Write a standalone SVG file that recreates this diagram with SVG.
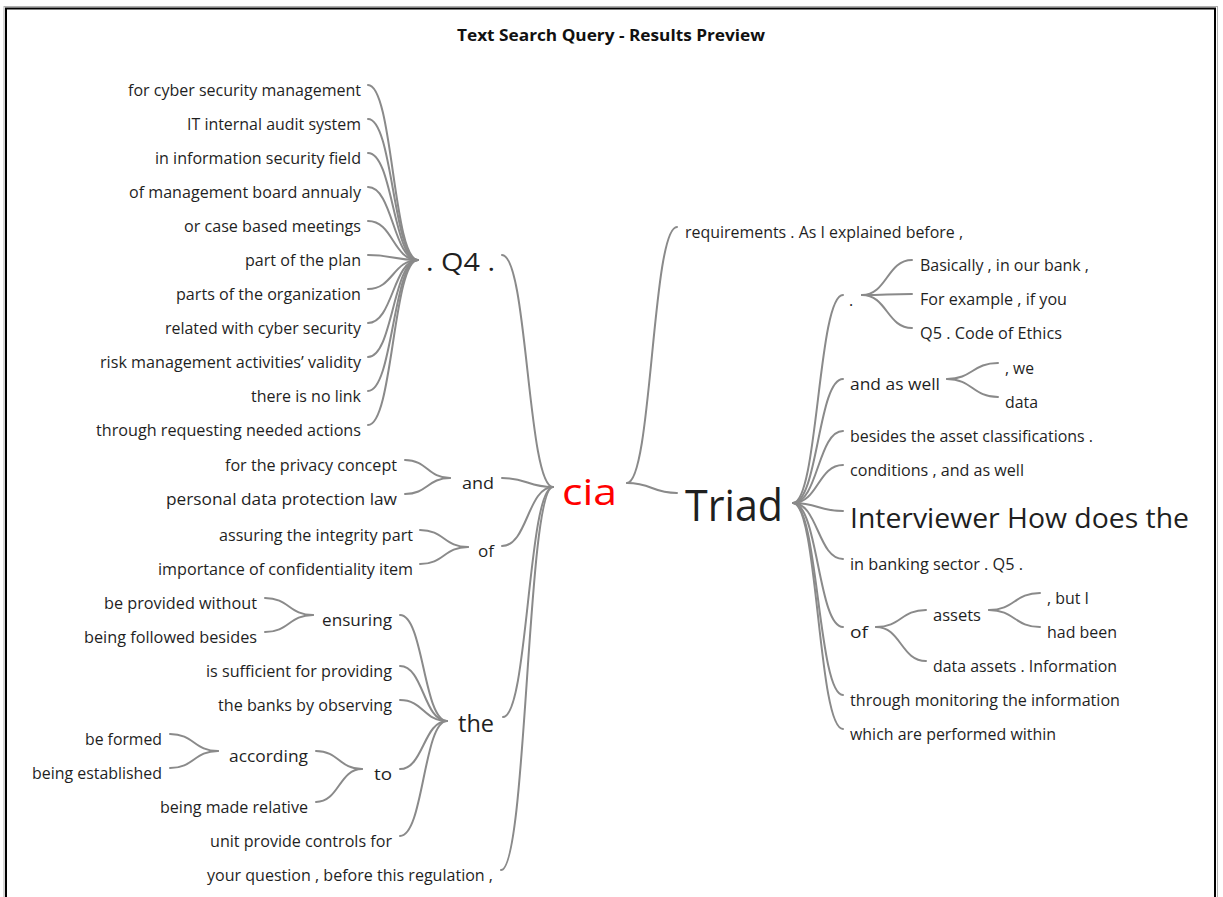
<svg xmlns="http://www.w3.org/2000/svg" width="1223" height="897" viewBox="0 0 1223 897">
  <defs>
    <style>
      .t { font-family: "Open Sans", "Noto Sans", "Liberation Sans", sans-serif; font-size: 16px; fill: #1f1f1f; }
      .e { text-anchor: end; }
      .title { font-family: "Open Sans", "Noto Sans", "Liberation Sans", sans-serif; font-size: 16px; font-weight: bold; fill: #111; text-anchor: middle; }
      .link { fill: none; stroke: #8a8a8a; stroke-width: 2; stroke-linecap: round; }
      .key { fill: #ff0000; }
    </style>
  </defs>

  <rect width="1223" height="897" fill="#ffffff"/>
  <!-- panel frame -->
  <rect x="4" y="6.5" width="1213.5" height="900" fill="none" stroke="#b0b0b0" stroke-width="1"/>
  <rect x="6" y="8.5" width="1209" height="900" fill="none" stroke="#000000" stroke-width="2"/>

  <text class="title" x="611" y="41" textLength="308" lengthAdjust="spacingAndGlyphs">Text Search Query - Results Preview</text>

  <!-- connectors: cubic S-curves between text anchors and branch points -->
  <g id="connectors">
    <!-- preceding phrases into ". Q4 ." -->
    <path class="link" d="M368,85 C393,85 393,260 418,260"/>
    <path class="link" d="M368,119 C393,119 393,260 418,260"/>
    <path class="link" d="M368,153 C393,153 393,260 418,260"/>
    <path class="link" d="M368,187 C393,187 393,260 418,260"/>
    <path class="link" d="M368,221 C393,221 393,260 418,260"/>
    <path class="link" d="M368,255 C393,255 393,260 418,260"/>
    <path class="link" d="M368,289 C393,289 393,260 418,260"/>
    <path class="link" d="M368,323 C393,323 393,260 418,260"/>
    <path class="link" d="M368,357 C393,357 393,260 418,260"/>
    <path class="link" d="M368,391 C393,391 393,260 418,260"/>
    <path class="link" d="M368,425 C393,425 393,260 418,260"/>
    <!-- into "and" -->
    <path class="link" d="M405,460 C427.5,460 427.5,478 450,478"/>
    <path class="link" d="M405,494 C427.5,494 427.5,478 450,478"/>
    <!-- into "of" -->
    <path class="link" d="M420,530 C444,530 444,547 468,547"/>
    <path class="link" d="M420,564 C444,564 444,547 468,547"/>
    <!-- into "ensuring" -->
    <path class="link" d="M265,598 C289,598 289,615 313,615"/>
    <path class="link" d="M265,632 C289,632 289,615 313,615"/>
    <!-- into "according" -->
    <path class="link" d="M170,734 C194,734 194,751 218,751"/>
    <path class="link" d="M170,768 C194,768 194,751 218,751"/>
    <!-- into "to" -->
    <path class="link" d="M316,751 C339,751 339,769 362,769"/>
    <path class="link" d="M316,802 C339,802 339,769 362,769"/>
    <!-- into "the" -->
    <path class="link" d="M400,615 C423.5,615 423.5,721 447,721"/>
    <path class="link" d="M400,666 C423.5,666 423.5,721 447,721"/>
    <path class="link" d="M400,700 C423.5,700 423.5,721 447,721"/>
    <path class="link" d="M400,769 C423.5,769 423.5,721 447,721"/>
    <path class="link" d="M400,836 C423.5,836 423.5,721 447,721"/>
    <!-- into the keyword -->
    <path class="link" d="M502,255 C527.5,255 527.5,487 553,487"/>
    <path class="link" d="M502,478 C527.5,478 527.5,487 553,487"/>
    <path class="link" d="M502,546 C527.5,546 527.5,487 553,487"/>
    <path class="link" d="M503,717 C528,717 528,487 553,487"/>
    <path class="link" d="M501,870 C527,870 527,487 553,487"/>

    <!-- following phrases out of the keyword -->
    <path class="link" d="M627,483 C652,483 652,227 677,227"/>
    <path class="link" d="M627,483 C652,483 652,493 677,493"/>
    <!-- out of "Triad" -->
    <path class="link" d="M793,503 C818,503 818,295 843,295"/>
    <path class="link" d="M793,503 C818,503 818,379 843,379"/>
    <path class="link" d="M793,503 C818,503 818,431 843,431"/>
    <path class="link" d="M793,503 C818,503 818,465 843,465"/>
    <path class="link" d="M793,503 C818,503 818,511 843,511"/>
    <path class="link" d="M793,503 C818,503 818,559 843,559"/>
    <path class="link" d="M793,503 C818,503 818,627 843,627"/>
    <path class="link" d="M793,503 C818,503 818,695 843,695"/>
    <path class="link" d="M793,503 C818,503 818,729 843,729"/>
    <!-- out of "." -->
    <path class="link" d="M862,295 C887,295 887,260 912,260"/>
    <path class="link" d="M862,295 C887,295 887,294 912,294"/>
    <path class="link" d="M862,295 C887,295 887,328 912,328"/>
    <!-- out of "and as well" -->
    <path class="link" d="M947,379 C972.5,379 972.5,363 998,363"/>
    <path class="link" d="M947,379 C972.5,379 972.5,397 998,397"/>
    <!-- out of "of" -->
    <path class="link" d="M876,627 C901,627 901,610 926,610"/>
    <path class="link" d="M876,627 C901,627 901,661 926,661"/>
    <!-- out of "assets" -->
    <path class="link" d="M989,610 C1014.5,610 1014.5,593 1040,593"/>
    <path class="link" d="M989,610 C1014.5,610 1014.5,627 1040,627"/>
  </g>

  <!-- keyword -->
  <g id="node-cia">
    <text class="t key" x="562" y="505" style="font-size:36px" textLength="55" lengthAdjust="spacingAndGlyphs">cia</text>
  </g>

  <!-- left branch: ". Q4 ." -->
  <g id="node-q4">
    <text class="t" x="426" y="271" style="font-size:25px" textLength="69" lengthAdjust="spacingAndGlyphs">. Q4 .</text>
  </g>
  <g id="q4-children">
    <text class="t e" x="361" y="95.5" textLength="233" lengthAdjust="spacingAndGlyphs">for cyber security management</text>
    <text class="t e" x="361" y="129.5" textLength="174" lengthAdjust="spacingAndGlyphs">IT internal audit system</text>
    <text class="t e" x="361" y="163.5" textLength="206" lengthAdjust="spacingAndGlyphs">in information security field</text>
    <text class="t e" x="361" y="197.5" textLength="232" lengthAdjust="spacingAndGlyphs">of management board annualy</text>
    <text class="t e" x="361" y="231.5" textLength="177" lengthAdjust="spacingAndGlyphs">or case based meetings</text>
    <text class="t e" x="361" y="265.5" textLength="116" lengthAdjust="spacingAndGlyphs">part of the plan</text>
    <text class="t e" x="361" y="299.5" textLength="185" lengthAdjust="spacingAndGlyphs">parts of the organization</text>
    <text class="t e" x="361" y="333.5" textLength="196" lengthAdjust="spacingAndGlyphs">related with cyber security</text>
    <text class="t e" x="361" y="367.5" textLength="261" lengthAdjust="spacingAndGlyphs">risk management activities’ validity</text>
    <text class="t e" x="361" y="401.5" textLength="110" lengthAdjust="spacingAndGlyphs">there is no link</text>
    <text class="t e" x="361" y="435.5" textLength="265" lengthAdjust="spacingAndGlyphs">through requesting needed actions</text>
  </g>

  <!-- left branch: "and" -->
  <g id="node-and">
    <text class="t" x="462" y="488.5" textLength="32" lengthAdjust="spacingAndGlyphs">and</text>
    <text class="t e" x="397" y="470.5" textLength="172" lengthAdjust="spacingAndGlyphs">for the privacy concept</text>
    <text class="t e" x="397" y="504.5" textLength="231" lengthAdjust="spacingAndGlyphs">personal data protection law</text>
  </g>

  <!-- left branch: "of" -->
  <g id="node-of-left">
    <text class="t" x="478" y="556.5" textLength="16" lengthAdjust="spacingAndGlyphs">of</text>
    <text class="t e" x="413" y="540.5" textLength="194" lengthAdjust="spacingAndGlyphs">assuring the integrity part</text>
    <text class="t e" x="413" y="574.5" textLength="255" lengthAdjust="spacingAndGlyphs">importance of confidentiality item</text>
  </g>

  <!-- left branch: "the" -->
  <g id="node-the">
    <text class="t" x="458" y="732" style="font-size:23px" textLength="36" lengthAdjust="spacingAndGlyphs">the</text>
  </g>
  <g id="node-ensuring">
    <text class="t" x="322" y="625.5" textLength="70" lengthAdjust="spacingAndGlyphs">ensuring</text>
    <text class="t e" x="257" y="608.5" textLength="153" lengthAdjust="spacingAndGlyphs">be provided without</text>
    <text class="t e" x="257" y="642.5" textLength="173" lengthAdjust="spacingAndGlyphs">being followed besides</text>
  </g>
  <g id="the-children">
    <text class="t e" x="392" y="676.5" textLength="186" lengthAdjust="spacingAndGlyphs">is sufficient for providing</text>
    <text class="t e" x="392" y="710.5" textLength="174" lengthAdjust="spacingAndGlyphs">the banks by observing</text>
    <text class="t e" x="392" y="846.5" textLength="182" lengthAdjust="spacingAndGlyphs">unit provide controls for</text>
  </g>
  <g id="node-to">
    <text class="t" x="374" y="779.5" textLength="18" lengthAdjust="spacingAndGlyphs">to</text>
    <text class="t e" x="308" y="812.5" textLength="148" lengthAdjust="spacingAndGlyphs">being made relative</text>
  </g>
  <g id="node-according">
    <text class="t" x="229" y="761.5" textLength="79" lengthAdjust="spacingAndGlyphs">according</text>
    <text class="t e" x="162" y="744.5" textLength="77" lengthAdjust="spacingAndGlyphs">be formed</text>
    <text class="t e" x="162" y="778.5" textLength="130" lengthAdjust="spacingAndGlyphs">being established</text>
  </g>

  <!-- left branch: direct phrase -->
  <g id="node-question">
    <text class="t e" x="493" y="880.5" textLength="286" lengthAdjust="spacingAndGlyphs">your question , before this regulation ,</text>
  </g>

  <!-- right branch: direct phrase -->
  <g id="node-requirements">
    <text class="t" x="685" y="237.5" textLength="278" lengthAdjust="spacingAndGlyphs">requirements . As I explained before ,</text>
  </g>

  <!-- right branch: "Triad" -->
  <g id="node-triad">
    <text class="t" x="685" y="521" style="font-size:44px" textLength="98" lengthAdjust="spacingAndGlyphs">Triad</text>
  </g>
  <g id="node-dot">
    <text class="t" x="849" y="306">.</text>
    <text class="t" x="920" y="271" textLength="169" lengthAdjust="spacingAndGlyphs">Basically , in our bank ,</text>
    <text class="t" x="920" y="304.5" textLength="147" lengthAdjust="spacingAndGlyphs">For example , if you</text>
    <text class="t" x="920" y="338.5" textLength="142" lengthAdjust="spacingAndGlyphs">Q5 . Code of Ethics</text>
  </g>
  <g id="node-and-as-well">
    <text class="t" x="850" y="389.5" textLength="90" lengthAdjust="spacingAndGlyphs">and as well</text>
    <text class="t" x="1005" y="373.5" textLength="29" lengthAdjust="spacingAndGlyphs">, we</text>
    <text class="t" x="1005" y="407.5" textLength="33" lengthAdjust="spacingAndGlyphs">data</text>
  </g>
  <g id="triad-children">
    <text class="t" x="850" y="441.5" textLength="243" lengthAdjust="spacingAndGlyphs">besides the asset classifications .</text>
    <text class="t" x="850" y="475.5" textLength="174" lengthAdjust="spacingAndGlyphs">conditions , and as well</text>
    <text class="t" x="850" y="528" style="font-size:27px" textLength="339" lengthAdjust="spacingAndGlyphs">Interviewer How does the</text>
    <text class="t" x="850" y="569.5" textLength="173" lengthAdjust="spacingAndGlyphs">in banking sector . Q5 .</text>
    <text class="t" x="850" y="705.5" textLength="270" lengthAdjust="spacingAndGlyphs">through monitoring the information</text>
    <text class="t" x="850" y="739.5" textLength="206" lengthAdjust="spacingAndGlyphs">which are performed within</text>
  </g>
  <g id="node-of-right">
    <text class="t" x="850" y="637.5" textLength="18" lengthAdjust="spacingAndGlyphs">of</text>
    <text class="t" x="933" y="671.5" textLength="184" lengthAdjust="spacingAndGlyphs">data assets . Information</text>
  </g>
  <g id="node-assets">
    <text class="t" x="933" y="620.5" textLength="48" lengthAdjust="spacingAndGlyphs">assets</text>
    <text class="t" x="1047" y="603.5" textLength="42" lengthAdjust="spacingAndGlyphs">, but I</text>
    <text class="t" x="1047" y="637.5" textLength="70" lengthAdjust="spacingAndGlyphs">had been</text>
  </g>
</svg>
